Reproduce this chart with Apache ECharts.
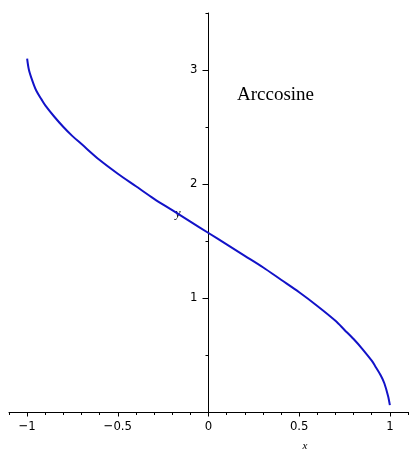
<!DOCTYPE html>
<html>
<head>
<meta charset="utf-8">
<script src="https://cdn.jsdelivr.net/npm/echarts@6/dist/echarts.min.js"></script>
<style>html,body{margin:0;padding:0;background:#fff}#c{width:409px;height:453px}</style>
</head>
<body>
<div id="c"></div>
<script>
// Values
var xValues = [-1, -0.99, -0.97, -0.95, -0.92, -0.9, -0.85, -0.8, -0.75, -0.7, -0.6, -0.5, -0.4, -0.3, -0.2, -0.1, 0, 0.1, 0.2, 0.3, 0.4, 0.5, 0.6, 0.7, 0.75, 0.8, 0.85, 0.9, 0.92, 0.95, 0.97, 0.99, 1];
var yValues = [3.10, 3.00, 2.90, 2.82, 2.74, 2.69, 2.59, 2.50, 2.42, 2.35, 2.21, 2.09, 1.98, 1.87, 1.77, 1.67, 1.57, 1.47, 1.37, 1.27, 1.16, 1.05, 0.93, 0.80, 0.72, 0.64, 0.55, 0.45, 0.40, 0.32, 0.25, 0.14, 0.06];
var xTickLabels = [-1, -0.5, 0, 0.5, 1];
var xMinorTicks = [-1.1, -1, -0.9, -0.8, -0.7, -0.6, -0.5, -0.4, -0.3, -0.2, -0.1, 0, 0.1, 0.2, 0.3, 0.4, 0.5, 0.6, 0.7, 0.8, 0.9, 1, 1.1];
var yTickLabels = [1, 2, 3];
var yMinorTicks = [0.5, 1.5, 2.5, 3.5];
var titleText = 'Arccosine';

var labelFont = "'Liberation Sans Narrow', 'DejaVu Sans Condensed', sans-serif";
var gridLeft = 9, gridRight = 1;
var xMin = -1.1, xMax = 1.1;
var gridW = 409 - gridLeft - gridRight;
var yAxisOffset = -gridW * (0 - xMin) / (xMax - xMin);

var chart = echarts.init(document.getElementById('c'), null, {renderer: 'canvas'});
var points = xValues.map(function (x, i) { return [x, yValues[i]]; });
var lineStyleAxis = {color: '#000', width: 1};
chart.setOption({
  animation: false,
  backgroundColor: '#fff',
  title: {
    text: titleText, left: 232, top: 81,
    textStyle: {fontFamily: "'Liberation Serif', 'Times New Roman', serif", fontSize: 19, fontWeight: 'normal', color: '#000'}
  },
  grid: {left: gridLeft, right: gridRight, top: 13, bottom: 41},
  xAxis: [{
    type: 'value', min: xMin, max: xMax, position: 'bottom',
    axisLine: {show: true, onZero: false, lineStyle: lineStyleAxis},
    axisTick: {show: true, inside: false, length: 4.5, customValues: xTickLabels, lineStyle: lineStyleAxis},
    axisLabel: {show: true, customValues: xTickLabels, margin: 8, fontFamily: labelFont, fontSize: 13, color: '#000',
      formatter: function (v) { return String(v).replace('-', '\u2212'); }},
    splitLine: {show: false}
  }, {
    type: 'value', min: xMin, max: xMax, position: 'bottom',
    axisLine: {show: false, onZero: false},
    axisTick: {show: true, length: 3, customValues: xMinorTicks, lineStyle: lineStyleAxis},
    axisLabel: {show: false},
    splitLine: {show: false}
  }],
  yAxis: [{
    type: 'value', min: 0, max: 3.5, position: 'left', offset: yAxisOffset,
    axisLine: {show: true, onZero: false, lineStyle: lineStyleAxis},
    axisTick: {show: true, length: 6, customValues: yTickLabels, lineStyle: lineStyleAxis},
    axisLabel: {show: true, customValues: yTickLabels, margin: 11, fontFamily: labelFont, fontSize: 13, color: '#000'},
    splitLine: {show: false}
  }, {
    type: 'value', min: 0, max: 3.5, position: 'left', offset: yAxisOffset,
    axisLine: {show: false, onZero: false},
    axisTick: {show: true, length: 3, customValues: yMinorTicks, lineStyle: lineStyleAxis},
    axisLabel: {show: false},
    splitLine: {show: false}
  }],
  graphic: [
    {type: 'text', x: 305, y: 446, style: {text: 'x', font: "italic 11px 'Liberation Serif', serif", fill: '#000', textAlign: 'center', textVerticalAlign: 'middle'}},
    {type: 'text', x: 178, y: 214, style: {text: 'y', font: "italic 12px 'Liberation Serif', serif", fill: '#000', textAlign: 'center', textVerticalAlign: 'middle'}}
  ],
  series: [{
    type: 'line', xAxisIndex: 0, yAxisIndex: 0, data: points, smooth: 0.3, showSymbol: false,
    lineStyle: {color: '#1212c8', width: 2}, z: 5
  }]
});
</script>
</body>
</html>
